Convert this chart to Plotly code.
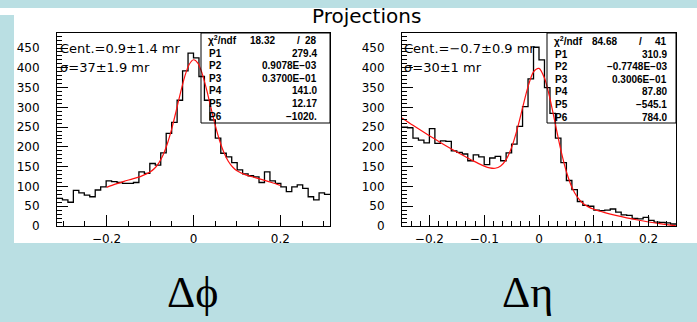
import plotly.graph_objects as go

W, H = 697, 322

# ---------------- data ----------------
phi_range = [-0.31416, 0.31416]
phi_counts = [70, 66, 60, 90, 84, 78, 74, 91, 99, 114,
              112, 110, 108, 108, 110, 137, 133, 158, 154, 185,
              234, 262, 318, 392, 437, 425, 378, 318, 268, 222,
              184, 175, 160, 142, 132, 127, 124, 110, 137, 114,
              108, 99, 87, 99, 104, 95, 74, 66, 84, 80]

eta_range = [-0.25, 0.25]
eta_counts = [250, 248, 222, 217, 210, 246, 209, 215, 214, 190,
              186, 182, 165, 180, 175, 155, 172, 176, 165, 185,
              207, 252, 302, 372, 452, 420, 350, 285, 222, 160,
              115, 92, 62, 52, 50, 40, 39, 40, 43, 35,
              28, 27, 19, 18, 22, 14, 10, 9, 8, 5]

phi_fit_x = [-0.20, -0.18, -0.16, -0.14, -0.12, -0.10, -0.09, -0.08, -0.07, -0.06,
             -0.05, -0.04, -0.03, -0.02, -0.01, 0.00, 0.01, 0.02, 0.03, 0.04,
             0.05, 0.06, 0.07, 0.08, 0.09, 0.10, 0.12, 0.14, 0.16, 0.18, 0.20]
phi_fit_y = [97.8, 105.8, 112.9, 119.3, 126.2, 136.4, 145.3, 159.1, 179.8, 208.7,
             246.2, 290.6, 336.8, 378.5, 408.3, 420.3, 412.1, 385.3, 345.6, 299.7,
             255.0, 216.2, 185.7, 163.8, 149.2, 139.7, 129.4, 122.9, 116.8, 110.1, 102.6]

eta_fit_x = [-0.25, -0.23, -0.21, -0.19, -0.17, -0.15, -0.13, -0.12, -0.11, -0.10,
             -0.09, -0.08, -0.07, -0.06, -0.05, -0.04, -0.03, -0.02, -0.01, 0.00,
             0.01, 0.02, 0.03, 0.04, 0.05, 0.06, 0.07, 0.08, 0.09, 0.10,
             0.12, 0.14, 0.16, 0.18, 0.20, 0.22, 0.24, 0.25]
eta_fit_y = [273.1, 254.6, 236.8, 219.7, 203.1, 187.2, 171.9, 164.6, 157.7, 151.5,
             147.0, 146.0, 151.7, 167.9, 198.3, 243.5, 298.7, 352.4, 389.9, 398.6,
             374.0, 322.1, 256.3, 191.1, 137.2, 98.2, 72.9, 57.6, 48.4, 42.2,
             33.8, 26.9, 20.65, 15.1, 10.1, 5.8, 2.1, 0.5]

phi_stats_labels = ["P1", "P2", "P3", "P4", "P5", "P6"]
phi_stats_values = ["279.4", "0.9078E\u221203", "0.3700E\u221201", "141.0", "12.17", "\u22121020."]
phi_chi2 = ["18.32", "28"]
eta_stats_labels = ["P1", "P2", "P3", "P4", "P5", "P6"]
eta_stats_values = ["310.9", "\u22120.7748E\u221203", "0.3006E\u221201", "87.80", "\u2212545.1", "784.0"]
eta_chi2 = ["84.68", "41"]

phi_text = ["Cent.=0.9\u00b11.4 mr", "\u03c3=37\u00b11.9 mr"]
eta_text = ["Cent.=\u22120.7\u00b10.9 mr", "\u03c3=30\u00b11 mr"]
title_text = "Projections"
bottom_labels = ["\u0394\u03d5", "\u0394\u03b7"]


def edges(rng, n):
    w = (rng[1] - rng[0]) / n
    return [rng[0] + i * w for i in range(n + 1)]


def X(px):
    return px / W


def Y(py):
    return 1 - py / H


fig = go.Figure()

ex = edges(phi_range, len(phi_counts))
fig.add_trace(go.Scatter(x=ex, y=phi_counts + [phi_counts[-1]], mode="lines",
                         line=dict(color="black", width=1.3, shape="hv"),
                         xaxis="x", yaxis="y", hoverinfo="skip"))
fig.add_trace(go.Scatter(x=phi_fit_x, y=phi_fit_y, mode="lines",
                         line=dict(color="#ff1010", width=1.2, shape="spline", smoothing=0.8),
                         xaxis="x", yaxis="y", hoverinfo="skip"))

ee = edges(eta_range, len(eta_counts))
fig.add_trace(go.Scatter(x=ee, y=eta_counts + [eta_counts[-1]], mode="lines",
                         line=dict(color="black", width=1.3, shape="hv"),
                         xaxis="x2", yaxis="y2", hoverinfo="skip"))
fig.add_trace(go.Scatter(x=eta_fit_x, y=eta_fit_y, mode="lines",
                         line=dict(color="#ff1010", width=1.2, shape="spline", smoothing=0.8),
                         xaxis="x2", yaxis="y2", hoverinfo="skip"))

tickfont = dict(family="DejaVu Sans", size=12, color="black")
common_axis = dict(showline=True, linecolor="black", linewidth=1, mirror=True,
                   showgrid=False, zeroline=False, ticks="inside", tickcolor="black",
                   tickwidth=1, tickfont=tickfont, automargin=False)

ydom = [Y(226), Y(33)]
fig.update_layout(
    width=W, height=H,
    margin=dict(l=0, r=0, t=0, b=0, autoexpand=False),
    paper_bgcolor="rgb(186,223,227)",
    plot_bgcolor="white",
    showlegend=False,
    xaxis=dict(domain=[X(57), X(330)], range=phi_range, anchor="y",
               dtick=0.2, tick0=0, ticklen=11, ticklabelstandoff=2,
               minor=dict(dtick=0.05, tick0=0, ticks="inside", ticklen=5, tickcolor="black"),
               **common_axis),
    yaxis=dict(domain=ydom, range=[0, 488], anchor="x",
               dtick=50, tick0=0, ticklen=11, ticklabelstandoff=14,
               minor=dict(dtick=10, tick0=0, ticks="inside", ticklen=5, tickcolor="black"),
               **common_axis),
    xaxis2=dict(domain=[X(402), X(676)], range=eta_range, anchor="y2",
                dtick=0.1, tick0=0, ticklen=11, ticklabelstandoff=2,
                minor=dict(dtick=0.1 / 6, tick0=0, ticks="inside", ticklen=5, tickcolor="black"),
                **common_axis),
    yaxis2=dict(domain=ydom, range=[0, 488], anchor="x2",
                dtick=50, tick0=0, ticklen=11, ticklabelstandoff=14,
                minor=dict(dtick=10, tick0=0, ticks="inside", ticklen=5, tickcolor="black"),
                **common_axis),
)

shapes = [
    dict(type="rect", xref="paper", yref="paper", x0=X(14), x1=X(697), y0=Y(243), y1=Y(8),
         fillcolor="white", line=dict(width=0), layer="below"),
    dict(type="rect", xref="paper", yref="paper", x0=X(0), x1=X(14), y0=Y(15), y1=Y(8),
         fillcolor="white", line=dict(width=0), layer="below"),
    dict(type="rect", xref="paper", yref="paper", x0=X(201), x1=X(330), y0=Y(123), y1=Y(33),
         fillcolor="rgba(0,0,0,0)", line=dict(color="black", width=1), layer="above"),
    dict(type="rect", xref="paper", yref="paper", x0=X(547), x1=X(676), y0=Y(123), y1=Y(33),
         fillcolor="rgba(0,0,0,0)", line=dict(color="black", width=1), layer="above"),
]
fig.update_layout(shapes=shapes)

ann = []


def txt(x, y, s, size, anchor="left", family="DejaVu Sans", color="black"):
    ann.append(dict(x=X(x), y=Y(y), xref="paper", yref="paper", text=s, showarrow=False,
                    xanchor=anchor, yanchor="middle",
                    font=dict(family=family, size=size, color=color)))


txt(367, 16, title_text, 20, "center")
txt(58, 48, phi_text[0], 13)
txt(58, 67, phi_text[1], 13)
txt(402, 48, eta_text[0], 13)
txt(402, 67, eta_text[1], 13)

sfam = "Liberation Sans"
ssz = 10
row0 = 40.5
dy = 12.6
txt(206, row0, "<b>\u03c7<sup>2</sup>/ndf</b>", ssz, "left", sfam)
txt(277, row0, "<b>" + phi_chi2[0] + "</b>", ssz, "right", sfam)
txt(298, row0, "<b>/</b>", ssz, "center", sfam)
txt(319, row0, "<b>" + phi_chi2[1] + "</b>", ssz, "right", sfam)
for i, (lab, val) in enumerate(zip(phi_stats_labels, phi_stats_values)):
    yy = row0 + dy * (i + 1)
    txt(207, yy, "<b>" + lab + "</b>", ssz, "left", sfam)
    txt(319, yy, "<b>" + val + "</b>", ssz, "right", sfam)

txt(552, row0 + 1, "<b>\u03c7<sup>2</sup>/ndf</b>", ssz, "left", sfam)
txt(619, row0 + 1, "<b>" + eta_chi2[0] + "</b>", ssz, "right", sfam)
txt(640, row0 + 1, "<b>/</b>", ssz, "center", sfam)
txt(669, row0 + 1, "<b>" + eta_chi2[1] + "</b>", ssz, "right", sfam)
for i, (lab, val) in enumerate(zip(eta_stats_labels, eta_stats_values)):
    yy = row0 + 1 + dy * (i + 1)
    txt(553, yy, "<b>" + lab + "</b>", ssz, "left", sfam)
    txt(669, yy, "<b>" + val + "</b>", ssz, "right", sfam)

serif = "Liberation Serif, DejaVu Serif, serif"
txt(192, 292, bottom_labels[0], 44, "center", serif)
txt(527, 292, bottom_labels[1], 44, "center", serif)

fig.update_layout(annotations=ann)
fig.write_html("out.html", config={"displayModeBar": False},
               post_script="document.body.style.margin='0px';document.body.style.overflow='hidden';")
